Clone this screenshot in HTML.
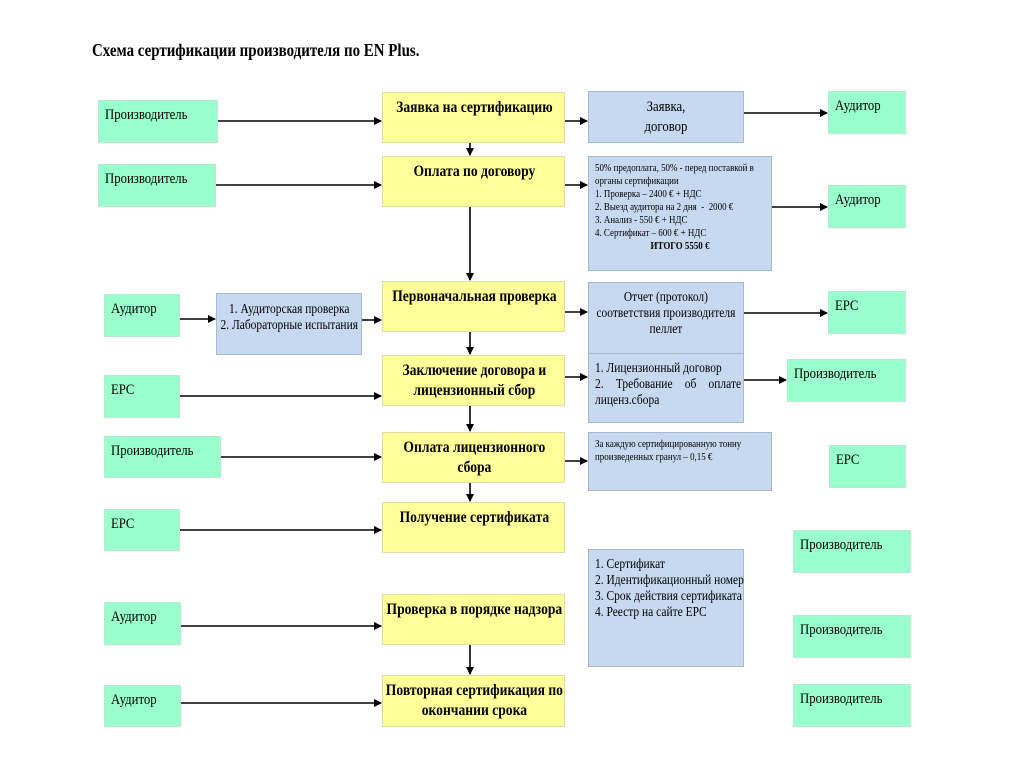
<!DOCTYPE html>
<html><head><meta charset="utf-8"><style>
body{margin:0;width:1024px;height:768px;background:#fff;position:relative;overflow:hidden;font-family:"Liberation Serif","Noto Serif CJK SC",serif;color:#000}
.b{position:absolute;box-sizing:border-box;white-space:nowrap}
.c{width:117.6%;transform:scaleX(0.85);transform-origin:0 0}
.g{background:#99ffcc;border:1px solid #b8e8d0;font-size:15px;padding:6px 6px}
.y{background:#ffff99;border:1px solid #e0dba0;font-weight:bold;font-size:16px;text-align:center;padding-top:5px;line-height:20px}
.y .c{width:215px}
.u{background:#c6d9f0;border:1px solid #a6b8cc;font-size:13.5px;line-height:16px}
svg{position:absolute;left:0;top:0}
</style></head><body>
<div class="b" style="left:92px;top:40px;font-size:18px;font-weight:bold"><div class="c" style="width:500px;transform:scaleX(0.83)">Схема сертификации производителя по EN Plus.</div></div>

<div class="b g" style="left:98px;top:100px;width:120px;height:43px"><div class="c">Производитель</div></div>
<div class="b g" style="left:98px;top:164px;width:118px;height:43px"><div class="c">Производитель</div></div>
<div class="b g" style="left:104px;top:294px;width:76px;height:43px"><div class="c">Аудитор</div></div>
<div class="b g" style="left:104px;top:375px;width:76px;height:43px"><div class="c">EPC</div></div>
<div class="b g" style="left:104px;top:436px;width:117px;height:42px"><div class="c">Производитель</div></div>
<div class="b g" style="left:104px;top:509px;width:76px;height:42px"><div class="c">EPC</div></div>
<div class="b g" style="left:104px;top:602px;width:77px;height:43px"><div class="c">Аудитор</div></div>
<div class="b g" style="left:104px;top:685px;width:77px;height:42px"><div class="c">Аудитор</div></div>

<div class="b y" style="left:382px;top:92px;width:183px;height:51px"><div class="c">Заявка на сертификацию</div></div>
<div class="b y" style="left:382px;top:156px;width:183px;height:51px"><div class="c">Оплата по договору</div></div>
<div class="b y" style="left:382px;top:281px;width:183px;height:51px"><div class="c">Первоначальная проверка</div></div>
<div class="b y" style="left:382px;top:355px;width:183px;height:51px"><div class="c">Заключение договора и<br>лицензионный сбор</div></div>
<div class="b y" style="left:382px;top:432px;width:183px;height:51px"><div class="c">Оплата лицензионного<br>сбора</div></div>
<div class="b y" style="left:382px;top:502px;width:183px;height:51px"><div class="c">Получение сертификата</div></div>
<div class="b y" style="left:382px;top:594px;width:183px;height:51px"><div class="c">Проверка в порядке надзора</div></div>
<div class="b y" style="left:382px;top:675px;width:183px;height:52px"><div class="c">Повторная сертификация по<br>окончании срока</div></div>

<div class="b u" style="left:588px;top:91px;width:156px;height:52px;text-align:center;font-size:15px;line-height:20px;padding-top:5px"><div class="c">Заявка,<br>договор</div></div>
<div class="b u" style="left:588px;top:156px;width:184px;height:115px;font-size:10.5px;line-height:13px;padding:5px 6px"><div class="c" style="width:200px">50% предоплата, 50% - перед поставкой в<br>органы сертификации<br>1. Проверка – 2400 € + НДС<br>2. Выезд аудитора на 2 дня &nbsp;- &nbsp;2000 €<br>3. Анализ - 550 € + НДС<br>4. Сертификат – 600 € + НДС<div style="text-align:center;font-weight:bold">ИТОГО 5550 €</div></div></div>
<div class="b u" style="left:216px;top:293px;width:146px;height:62px;text-align:center;padding-top:7px"><div class="c" style="width:170px">1. Аудиторская проверка<br>2. Лабораторные испытания</div></div>
<div class="b u" style="left:588px;top:282px;width:156px;height:72px;text-align:center;padding-top:6px"><div class="c" style="width:181px">Отчет (протокол)<br>соответствия производителя<br>пеллет</div></div>
<div class="b u" style="left:588px;top:353px;width:156px;height:70px;padding:6px 6px"><div class="c" style="width:170px">1. Лицензионный договор<br><span style="word-spacing:11px">2. Требование об оплате</span><br>лиценз.сбора</div></div>
<div class="b u" style="left:588px;top:432px;width:184px;height:59px;padding:5px 6px;font-size:10.5px;line-height:13px"><div class="c" style="width:200px">За каждую сертифицированную тонну<br>произведенных гранул – 0,15 €</div></div>
<div class="b u" style="left:588px;top:549px;width:156px;height:118px;padding:6px 6px"><div class="c" style="width:170px">1. Сертификат<br>2. Идентификационный номер<br>3. Срок действия сертификата<br>4. Реестр на сайте EPC</div></div>

<div class="b g" style="left:828px;top:91px;width:78px;height:43px"><div class="c">Аудитор</div></div>
<div class="b g" style="left:828px;top:185px;width:78px;height:43px"><div class="c">Аудитор</div></div>
<div class="b g" style="left:828px;top:291px;width:78px;height:43px"><div class="c">EPC</div></div>
<div class="b g" style="left:787px;top:359px;width:119px;height:43px"><div class="c">Производитель</div></div>
<div class="b g" style="left:829px;top:445px;width:77px;height:43px"><div class="c">EPC</div></div>
<div class="b g" style="left:793px;top:530px;width:118px;height:43px"><div class="c">Производитель</div></div>
<div class="b g" style="left:793px;top:615px;width:118px;height:43px"><div class="c">Производитель</div></div>
<div class="b g" style="left:793px;top:684px;width:118px;height:43px"><div class="c">Производитель</div></div>

<svg width="1024" height="768">
<defs><marker id="a" markerWidth="8" markerHeight="8" refX="7" refY="4" orient="auto" markerUnits="userSpaceOnUse"><path d="M0,0 L8,4 L0,8z" fill="#000"/></marker></defs>
<g stroke="#000" stroke-width="1.6" fill="none" marker-end="url(#a)">
<line x1="218" y1="121" x2="381" y2="121"/>
<line x1="216" y1="185" x2="381" y2="185"/>
<line x1="180" y1="319" x2="215" y2="319"/>
<line x1="362" y1="320" x2="381" y2="320"/>
<line x1="180" y1="396" x2="381" y2="396"/>
<line x1="221" y1="457" x2="381" y2="457"/>
<line x1="180" y1="530" x2="381" y2="530"/>
<line x1="181" y1="626" x2="381" y2="626"/>
<line x1="181" y1="703" x2="381" y2="703"/>
<line x1="565" y1="121" x2="587" y2="121"/>
<line x1="565" y1="185" x2="587" y2="185"/>
<line x1="565" y1="312" x2="587" y2="312"/>
<line x1="565" y1="377" x2="587" y2="377"/>
<line x1="565" y1="461" x2="587" y2="461"/>
<line x1="744" y1="113" x2="827" y2="113"/>
<line x1="772" y1="207" x2="827" y2="207"/>
<line x1="744" y1="313" x2="827" y2="313"/>
<line x1="744" y1="380" x2="786" y2="380"/>
<line x1="470" y1="143" x2="470" y2="155"/>
<line x1="470" y1="207" x2="470" y2="280"/>
<line x1="470" y1="332" x2="470" y2="354"/>
<line x1="470" y1="406" x2="470" y2="431"/>
<line x1="470" y1="483" x2="470" y2="501"/>
<line x1="470" y1="645" x2="470" y2="674"/>
</g></svg>
</body></html>
